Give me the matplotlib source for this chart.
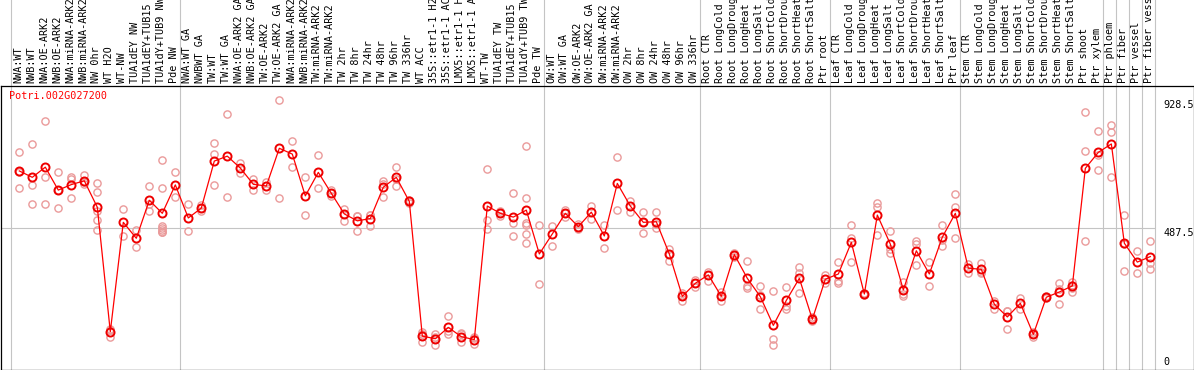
import numpy as np
import matplotlib
matplotlib.use("Agg")
from matplotlib import pyplot as plt
import matplotlib.transforms as mtransforms

gene = "Potri.002G027200"

samples = ["NWA:WT", "NWB:WT", "NWA:OE-ARK2", "NWB:OE-ARK2", "NWA:miRNA-ARK2",
           "NWB:miRNA-ARK2", "NW 0hr", "WT H2O", "WT-NW", "TUA1dEY NW",
           "TUA1dEY+TUB15 NW", "TUA1dY+TUB9 NW", "Pde NW",
           "NWA:WT GA", "NWBWT GA", "TW:WT", "TW:WT GA", "NWA:OE-ARK2 GA",
           "NWB:OE-ARK2 GA", "TW:OE-ARK2", "TW:OE-ARK2 GA", "NWA:miRNA-ARK2",
           "NWB:miRNA-ARK2", "TW:miRNA-ARK2", "TW:miRNA-ARK2", "TW 2hr", "TW 8hr",
           "TW 24hr", "TW 48hr", "TW 96hr", "TW 336hr", "WT ACC",
           "35S::etr1-1 H2O", "35S::etr1-1 ACC", "LMX5::etr1-1 H2O",
           "LMX5::etr1-1 ACC", "WT-TW", "TUA1dEY TW", "TUA1dEY+TUB15 TW",
           "TUA1dY+TUB9 TW", "Pde TW",
           "OW:WT", "OW:WT GA", "OW:OE-ARK2", "OW:OE-ARK2 GA", "OW:miRNA-ARK2",
           "OW:miRNA-ARK2", "OW 2hr", "OW 8hr", "OW 24hr", "OW 48hr", "OW 96hr",
           "OW 336hr",
           "Root CTR", "Root LongCold", "Root LongDrought", "Root LongHeat",
           "Root LongSalt", "Root ShortCold", "Root ShortDrought", "Root ShortHeat",
           "Root ShortSalt", "Ptr root",
           "Leaf CTR", "Leaf LongCold", "Leaf LongDrought", "Leaf LongHeat",
           "Leaf LongSalt", "Leaf ShortCold", "Leaf ShortDrought", "Leaf ShortHeat",
           "Leaf ShortSalt", "Ptr leaf",
           "Stem CTR", "Stem LongCold", "Stem LongDrought", "Stem LongHeat",
           "Stem LongSalt", "Stem ShortCold", "Stem ShortDrought", "Stem ShortHeat",
           "Stem ShortSalt", "Ptr shoot", "Ptr xylem",
           "Ptr phloem", "Ptr fiber", "Ptr vessel", "Ptr fiber vessel"]

# first sample index of each block (separators drawn before these)
group_starts = [0, 13, 41, 53, 63, 73, 84, 85, 86, 87, 88]

means = [684, 662, 697, 618, 637, 650, 559, 130, 507, 452,
         583, 538, 636, 522, 556, 718, 735, 694, 638, 632,
         762, 742, 598, 679, 607, 536, 512, 520, 628, 662,
         579, 115, 106, 145, 113, 103, 563, 538, 525, 549,
         398, 467, 538, 492, 542, 460, 641, 563, 507, 509,
         398, 252, 297, 326, 252, 396, 314, 251, 152, 238,
         314, 173, 311, 329, 438, 260, 532, 432, 274, 409,
         329, 456, 538, 349, 345, 225, 181, 228, 121, 249,
         267, 288, 693, 748, 777, 435, 370, 389]

reps = [[748, 624, 680], [777, 637, 569], [855, 664, 569], [679, 555, 618],
        [664, 655, 590], [670, 646, 638], [641, 612, 547, 515, 480],
        [136, 140, 113], [552, 461], [481, 423], [633, 546, 570],
        [722, 624, 495, 486, 475, 481, 474], [679, 593],
        [569, 476], [567, 547, 556], [779, 742, 635], [879, 593], [712, 676],
        [655, 618], [645, 618], [928.5, 590], [787, 697], [662, 532],
        [739, 624], [618, 607, 598], [552, 512, 536], [529, 529, 476],
        [532, 531, 495], [650, 593, 639], [697, 632, 657], [584, 579, 574],
        [130, 94, 122], [113, 84, 122], [183, 121, 133], [125, 94, 122],
        [108, 88, 112], [690, 515, 483], [546, 538, 529], [607, 504, 460],
        [770, 590, 504, 498, 467, 437], [498, 294],
        [495, 425], [549, 538, 525], [501, 491, 484], [564, 517], [498, 418],
        [731, 549], [582, 542], [542, 469, 508], [542, 486, 501],
        [415, 375, 398], [263, 237, 253], [308, 285, 298],
        [337, 306, 326], [268, 237, 253], [402, 389, 396], [375, 280, 288],
        [288, 207, 257], [270, 104, 84], [283, 219, 207], [352, 333, 263],
        [182, 168, 173], [326, 297],
        [371, 306, 299], [498, 452, 369], [263, 257, 260], [575, 559, 463],
        [477, 414, 400], [302, 260, 253], [444, 432, 360], [371, 288],
        [498, 425, 446], [605, 559, 452],
        [363, 331], [368, 331, 336], [237, 208], [203, 140, 202], [247, 208],
        [113, 122, 129], [245, 249, 252], [297, 226, 277], [302, 290, 280, 268],
        [886, 753, 443], [821, 687, 739],
        [842, 819, 662], [532, 339, 432], [407, 333], [443, 368, 345]]

y_marks = [0, 487.5, 928.5]
y_top = 978.3

W, H = 1194, 370
fig = plt.figure(figsize=(W / 100, H / 100), dpi=100)
ax = fig.add_axes([0.5 / W, 0.5 / H, 1193 / W, 284 / H])

x = np.arange(len(samples))
ax.set_xlim(-1.446, 90.32)
ax.set_ylim(0, y_top)
ax.set_xticks([])
ax.set_yticks([])
for s in ax.spines.values():
    s.set_linewidth(0.9)
    s.set_color("black")

grid_c = "#c4c4c4"
sep = [g - 0.66 for g in group_starts]
for xs in sep:
    ax.axvline(xs, ymin=0, ymax=369.5 / 284, color=grid_c, lw=0.8,
               clip_on=False, zorder=1)
ax.hlines(y_marks[1], -1.446, sep[-1], color=grid_c, lw=0.8, zorder=1)

# replicates
rx = np.concatenate([[i] * len(r) for i, r in enumerate(reps)])
ry = np.concatenate(reps)
ax.plot(rx, ry, ls="none", marker="o", ms=5.2, mfc="none", mec="#ea9a9a",
        mew=1.0, zorder=2)

# means
ax.plot(x, means, color="#ff0000", lw=0.9, zorder=3)
ax.plot(x, means, ls="none", marker="o", ms=5.8, mfc="none", mec="#ee0000",
        mew=1.4, zorder=4)

mono = "DejaVu Sans Mono"
trans = mtransforms.blended_transform_factory(ax.transData, ax.transAxes)
for i, lab in enumerate(samples):
    ax.text(i - 0.08, 1 + 2.5 / 284, lab, transform=trans, rotation=90,
            ha="center", va="bottom", family=mono, fontsize=7.3,
            clip_on=False)

# y value labels at right
lx = 87.98
ax.text(lx, y_marks[2], "928.5", ha="left", va="top", family=mono,
        fontsize=7.3, clip_on=True)
ax.text(lx, y_marks[1], "487.5", ha="left", va="top", family=mono,
        fontsize=7.3, clip_on=True)
ax.text(lx, y_marks[0] + 8, "0", ha="left", va="bottom", family=mono,
        fontsize=7.3, clip_on=True)

fig.text(9 / W, 1 - 91 / H, gene, color="#ff0000", family=mono,
         fontsize=7.3, ha="left", va="top")

fig.savefig("out.png", dpi=100)
